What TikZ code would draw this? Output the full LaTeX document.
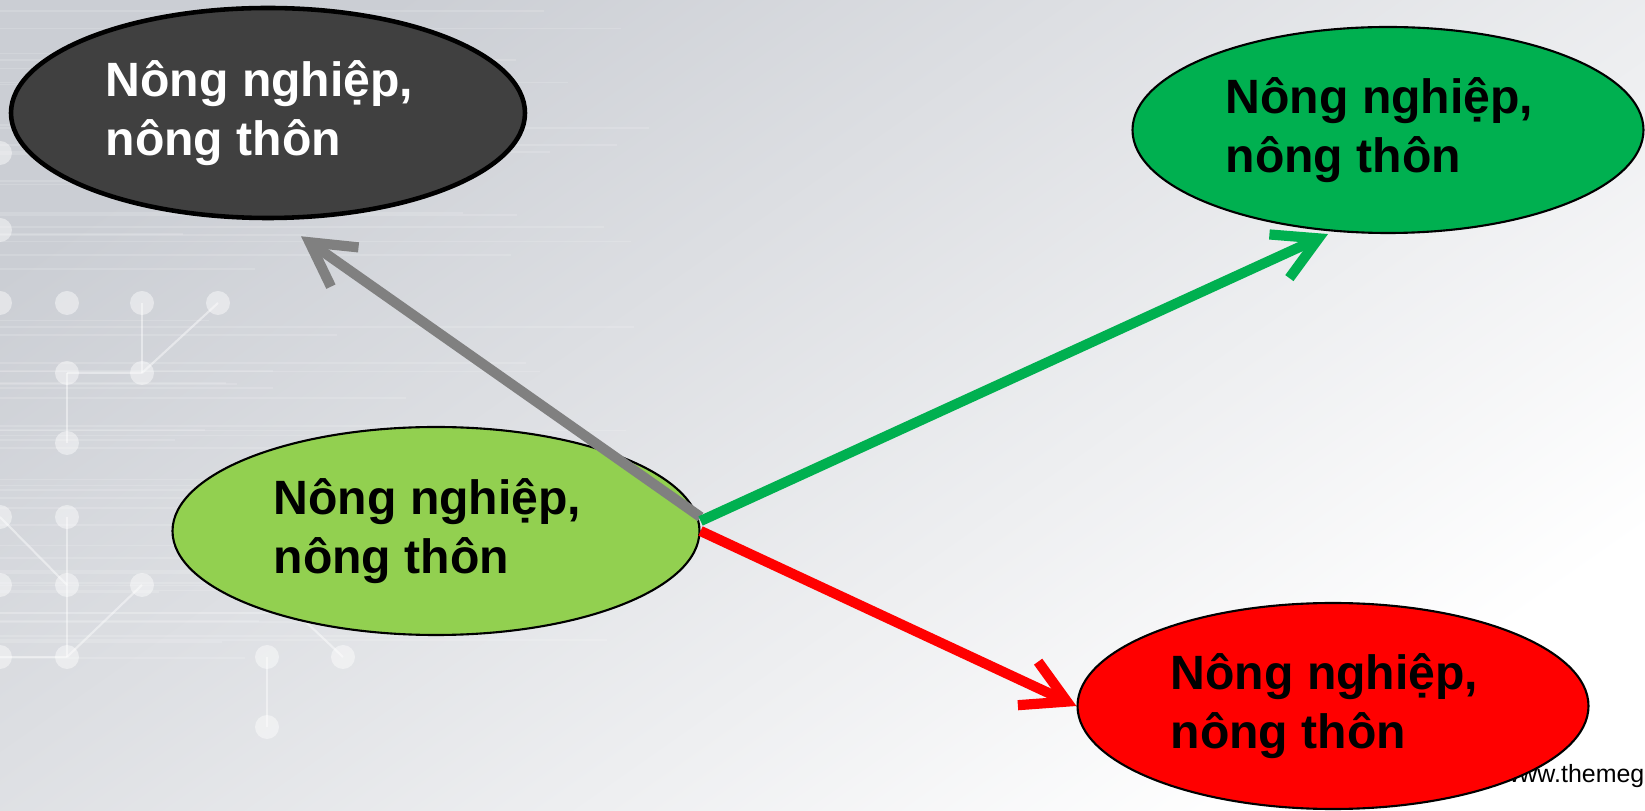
\documentclass[tikz,border=0pt]{standalone}
\usepackage{fontspec}
\setmainfont{Liberation Sans}
\usetikzlibrary{shapes.geometric, arrows.meta}

\definecolor{bgtop}{RGB}{203,206,212}
\definecolor{darkfill}{RGB}{64,64,64}
\definecolor{leaf}{RGB}{146,208,80}
\definecolor{grass}{RGB}{0,176,80}

\newcommand{\twolines}{Nông nghiệp,\hspace*{1.7mm}\\nông thôn}

\tikzset{
  oval/.style = {ellipse, draw, line width=0.6pt, inner sep=0pt,
    minimum width=5.12cm, minimum height=2.06cm, align=left,
    font=\bfseries\fontsize{13.7}{16.8}\selectfont},
  link/.style = {line width=2.9pt, -{Straight Barb[length=4.3mm, width=4.8mm]}}
}

\begin{document}
\begin{tikzpicture}
\useasboundingbox (0,0) rectangle (16.45,8.11);
\shade[top color=bgtop, bottom color=white, shading angle=35] (0,0) rectangle (16.45,8.11);

\pgfmathsetseed{7}
\foreach \i in {1,...,60}{
  \pgfmathsetmacro\yy{1.5+rnd*6.6}
  \pgfmathsetmacro\ll{1.5+rnd*5}
  \draw[white, opacity=0.15, line width=0.5pt] (0,\yy) -- (\ll,\yy);
}

\begin{scope}[yshift=8.11cm, yscale=-1]
\foreach \a/\b/\c/\d in {1.42/3.03/1.42/3.73, 2.18/3.03/1.42/3.73, 0.67/3.73/1.42/3.73,
    0.67/3.73/0.67/4.43, 0.67/5.17/0.67/6.57, 0/5.17/0.67/5.85, 1.42/5.85/0.67/6.57,
    2.67/5.85/3.43/6.57, 2.67/6.57/2.67/7.27, 0/6.57/0.67/6.57}
  \draw[white, opacity=0.45, line width=0.6pt] (\a,\b) -- (\c,\d);
\foreach \x/\y in {0/1.53, 0/2.30, 0/3.03, 0.67/3.03, 1.42/3.03, 2.18/3.03, 0.67/3.73,
    1.42/3.73, 0.67/4.43, 0/5.17, 0.67/5.17, 0/5.85, 0.67/5.85, 1.42/5.85, 2.67/5.85,
    0/6.57, 0.67/6.57, 2.67/6.57, 3.43/6.57, 2.67/7.27}
  \fill[white, opacity=0.45] (\x,\y) circle (1.2mm);
\end{scope}

\node[oval, fill=darkfill, text=white, line width=1.3pt, minimum width=5.14cm, minimum height=2.1cm] (dark) at (2.68,6.98) {\twolines};
\node[oval, fill=grass, minimum width=5.11cm] (top) at (13.88,6.81) {\twolines};
\node[oval, fill=leaf, minimum width=5.27cm, minimum height=2.08cm] (mid) at (4.36,2.80) {\twolines};
\node[anchor=base east, inner sep=0pt, font=\fontsize{7.1}{8}\selectfont] (web) at (16.45,0.28) {www.themeg};
\node[oval, fill=red, minimum width=5.11cm] (bot) at (13.33,1.05) {\twolines};

\draw[link, gray] ([yshift=1.4mm]mid.east) -- ([xshift=3.3mm, yshift=-1.6mm]dark.south);
\draw[link, grass] ([yshift=1mm]mid.east) -- ([xshift=-6mm]top.south);
\draw[link, red] (mid.east) -- (bot.west);
\end{tikzpicture}
\end{document}
